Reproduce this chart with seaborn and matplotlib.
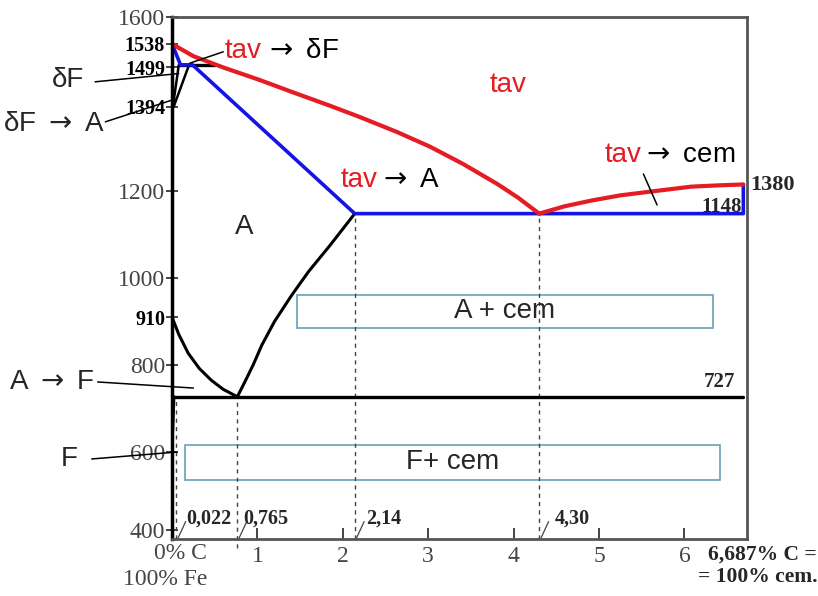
import numpy as np
import pandas as pd
import matplotlib
matplotlib.use('Agg')
import matplotlib.pyplot as plt
import seaborn as sns
from matplotlib.patches import Rectangle

# 기본 설정
sns.set_theme(style='white')
SANS = ['Liberation Sans', 'DejaVu Sans']
SERIF = ['Liberation Serif', 'DejaVu Serif']
plt.rcParams['font.family'] = SANS
plt.rcParams['mathtext.fontset'] = 'dejavusans'

# 1. 데이터
liq_left_x = [0, 0.25, 0.60, 1.03, 1.40, 1.85, 2.20, 2.63, 3.02, 3.41, 3.81, 4.05, 4.30]
liq_left_y = [1538, 1510, 1484, 1455, 1428, 1396, 1370, 1336, 1302, 1262, 1216, 1185, 1148]
liq_right_x = [4.30, 4.60, 4.91, 5.25, 5.62, 6.08, 6.40, 6.69]
liq_right_y = [1148, 1165, 1178, 1190, 1199, 1210, 1213, 1215]

solidus_x = [0, 0.10, 0.24, 2.14, 6.69, 6.69]
solidus_y = [1538, 1490, 1490, 1148, 1148, 1215]

perit_x = [0.08, 0.50]
perit_y = [1490, 1490]
delta1_x = [0.08, 0.01]
delta1_y = [1490, 1394]
delta2_x = [0.20, 0.02]
delta2_y = [1490, 1394]

a3_x = [0, 0.08, 0.19, 0.32, 0.46, 0.60, 0.765]
a3_y = [910, 870, 827, 792, 765, 744, 727]
acm_x = [0.765, 0.85, 0.95, 1.05, 1.20, 1.40, 1.60, 1.85, 2.14]
acm_y = [727, 760, 800, 845, 900, 960, 1015, 1075, 1148]
solvus_x = [0.022, 0.01, 0]
solvus_y = [727, 660, 620]
eutectoid_x = [0.022, 6.69]
eutectoid_y = [727, 727]

dash_x = [0.05, 0.765, 2.14, 4.30]
dash_top = [727, 727, 1148, 1148]
dash_bottom = [400, 380, 400, 400]

comp_labels = ['0,022', '0,765', '2,14', '4,30']
comp_label_x = [0.17, 0.83, 2.27, 4.48]

ytick_vals = [1600, 1538, 1485, 1394, 1200, 1000, 910, 800, 600, 420]
ytick_text = ['1600', '1538', '1499', '1394', '1200', '1000', '910', '800', '600', '400']
ytick_bold = [False, True, True, True, False, False, True, False, False, False]
xtick_vals = [1, 2, 3, 4, 5, 6]

# 2. 그림
fig = plt.figure(figsize=(8.18, 5.96), dpi=100)
ax = fig.add_axes([172 / 818, 1 - 539 / 596, 575 / 818, 522 / 596])


def draw(xs, ys, color, lw, **kw):
    df = pd.DataFrame({'x': xs, 'y': ys})
    sns.lineplot(data=df, x='x', y='y', sort=False, estimator=None,
                 color=color, lw=lw, ax=ax, **kw)


# 점선 (조성)
for xv, y0, y1 in zip(dash_x, dash_bottom, dash_top):
    ax.plot([xv, xv], [y0, y1], color='#444444', lw=1.0, ls=(0, (3, 3)), clip_on=False)
for xv in dash_x:
    ax.plot([xv + 0.02, xv + 0.11], [402, 440], color='#444444', lw=0.9)

# 검은 선
draw(perit_x, perit_y, 'black', 2.4)
draw(delta1_x, delta1_y, 'black', 1.8)
draw(delta2_x, delta2_y, 'black', 1.8)
draw(a3_x, a3_y, 'black', 2.2)
draw(acm_x, acm_y, 'black', 2.2)
draw(solvus_x, solvus_y, 'black', 2.2)
draw(eutectoid_x, eutectoid_y, 'black', 2.4)

# 파란선, 빨간선
draw(solidus_x, solidus_y, '#1414e6', 2.6)
draw(liq_left_x, liq_left_y, '#e51c23', 3.0)
draw(liq_right_x, liq_right_y, '#e51c23', 3.0)

# 박스
box_color = '#6a9fb5'
ax.add_patch(Rectangle((1.46, 885), 4.87, 76, fill=False, ec=box_color, lw=1.2))
ax.add_patch(Rectangle((0.15, 536), 6.27, 80, fill=False, ec=box_color, lw=1.2))
ax.text(3.895, 923, 'A + cem', fontsize=20, ha='center', va='center', family=SANS)
ax.text(3.285, 576, 'F+ cem', fontsize=20, ha='center', va='center', family=SANS)

# 상 라벨
RED = '#e51c23'
FS = 20
ARR = r'$\rightarrow$'
ax.text(0.62, 1522, 'tav', color=RED, fontsize=FS, va='center', family=SANS)
ax.text(1.08, 1522, ARR + ' δF', color='black', fontsize=FS, va='center', family=SANS)
ax.text(3.93, 1444, 'tav', color=RED, fontsize=FS, ha='center', va='center', family=SANS)
ax.text(1.97, 1225, 'tav', color=RED, fontsize=FS, va='center', family=SANS)
ax.text(2.41, 1225, ARR + ' A', color='black', fontsize=FS, va='center', family=SANS)
ax.text(5.06, 1283, 'tav', color=RED, fontsize=FS, va='center', family=SANS)
ax.text(5.49, 1283, ARR + ' cem', color='black', fontsize=FS, va='center', family=SANS)
ax.text(0.85, 1117, 'A', fontsize=FS, ha='center', va='center', family=SANS)

# 바깥 라벨 + 지시선
ax.text(-1.03, 1455, 'δF', fontsize=FS, ha='right', va='center', family=SANS)
ax.text(-0.78, 1355, 'δF ' + ARR + ' A', fontsize=FS, ha='right', va='center', family=SANS)
ax.text(-0.90, 761, 'A ' + ARR + ' F', fontsize=FS, ha='right', va='center', family=SANS)
ax.text(-1.10, 583, 'F', fontsize=FS, ha='right', va='center', family=SANS)
lead = dict(color='black', lw=1.1, clip_on=False)
ax.plot([-0.90, 0.08], [1451, 1470], **lead)
ax.plot([-0.78, 0.0], [1359, 1409], **lead)
ax.plot([0.60, 0.21], [1520, 1494], **lead)
ax.plot([5.52, 5.68], [1239, 1168], **lead)
ax.plot([-0.87, 0.25], [761, 747], **lead)
ax.plot([-0.94, 0.06], [584, 600], **lead)

# 숫자 라벨
ax.text(6.77, 1214, '1380', fontsize=16, fontweight='bold', va='center', family=SERIF)
ax.text(6.67, 1163, '1148', fontsize=15, fontweight='bold', ha='right', va='center', family=SERIF)
ax.text(6.59, 762, '727', fontsize=15, fontweight='bold', ha='right', va='center', family=SERIF)
for lab, xv in zip(comp_labels, comp_label_x):
    ax.text(xv, 448, lab, fontsize=14.5, fontweight='bold', va='center', family=SERIF)

# 축
ax.set_xlim(0, 6.733)
ax.set_ylim(400, 1600)
ax.set(xlabel='', ylabel='')
ax.set_yticks(ytick_vals)
ax.set_yticklabels(ytick_text)
for lab, b in zip(ax.get_yticklabels(), ytick_bold):
    lab.set_family(SERIF)
    if b:
        lab.set_fontweight('bold')
        lab.set_fontsize(14.5)
        lab.set_color('black')
    else:
        lab.set_fontsize(17)
        lab.set_color('#444444')
ax.set_xticks(xtick_vals)
ax.set_xticklabels([str(v) for v in xtick_vals], family=SERIF, fontsize=17, color='#444444')
ax.tick_params(axis='y', direction='inout', length=8, width=1.2, pad=1, left=True)
ax.tick_params(axis='x', direction='in', length=8, width=1.2, pad=5, bottom=True)

for side in ['top', 'right', 'bottom']:
    ax.spines[side].set_color('#555555')
    ax.spines[side].set_linewidth(2)
ax.spines['left'].set_color('black')
ax.spines['left'].set_linewidth(2.5)

fig.text(207 / 818, 1 - 543 / 596, '0% C\n100% Fe', fontsize=17, ha='right', va='top',
         multialignment='right', linespacing=1.3, color='#444444', family=SERIF)
fig.text(0.999, 1 - 545 / 596, '6,687% C =\n= 100% cem.', fontsize=15.5, ha='right', va='top',
         multialignment='right', linespacing=1.15, fontweight='bold', family=SERIF)

fig.savefig('out.png', dpi=100)
